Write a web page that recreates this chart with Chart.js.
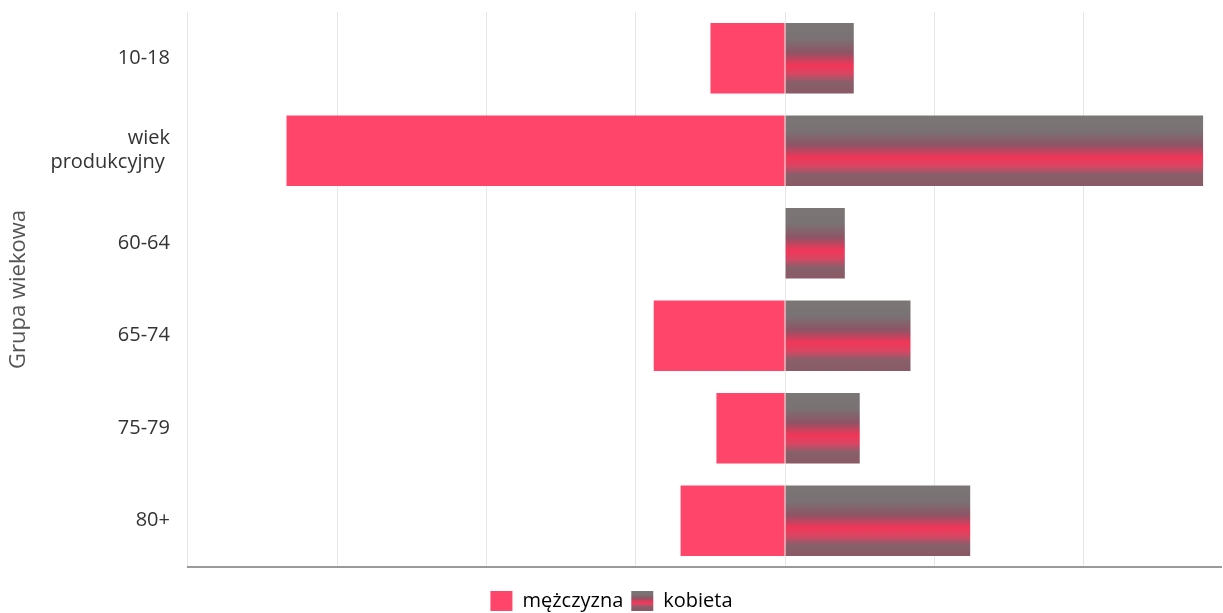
<!DOCTYPE html>
<html>
<head>
<meta charset="utf-8">
<script src="https://cdn.jsdelivr.net/npm/chart.js@4/dist/chart.umd.min.js"></script>
<style>
  html, body { margin: 0; padding: 0; background: #fff; }
  #wrap { width: 1223px; height: 613px; }
</style>
</head>
<body>
<div id="wrap"><canvas id="myChart"></canvas></div>
<script>
// grupy wiekowe (oś Y)
const labels = ['10-18', ['wiek', 'produkcyjny\u00a0'], '60-64', '65-74', '75-79', '80+'];
// mężczyźni po lewej (ujemne), kobiety po prawej
const men = [-25, -167, 0, -44, -23, -35];
const women = [23, 140, 20, 42, 25, 62];
// zakres osi X
const xMin = -200;
const xMax = 146;
const xStep = 50;

// pasiasty (szaro-czerwony) gradient od y0 do y1
function stripes(c2d, y0, y1) {
    const g = c2d.createLinearGradient(0, y0, 0, y1);
    g.addColorStop(0, '#7b7676');
    g.addColorStop(0.22, '#7a7274');
    g.addColorStop(0.42, '#8e5465');
    g.addColorStop(0.6, '#f23658');
    g.addColorStop(0.72, '#d84662');
    g.addColorStop(0.85, '#86606a');
    g.addColorStop(1, '#8a5a66');
    return g;
}

// wypełnienie słupków "kobieta"
function womanFill(c) {
    const chart = c.chart;
    const y = chart.scales.y;
    if (!y || c.dataIndex === undefined) return '#8a5262';
    const mid = y.getPixelForValue(c.dataIndex);
    return stripes(chart.ctx, mid - 35, mid + 35);
}

const ctx = document.getElementById('myChart').getContext('2d');
const chart = new Chart(ctx, {
    type: 'bar',
    data: {
        labels: labels,
        datasets: [
            {
                label: 'mężczyzna',
                data: men,
                backgroundColor: '#ff4569',
                borderWidth: 0,
                categoryPercentage: 0.8,
                barPercentage: 0.95
            },
            {
                label: 'kobieta',
                data: women,
                backgroundColor: womanFill,
                borderWidth: 0,
                categoryPercentage: 0.8,
                barPercentage: 0.95
            }
        ]
    },
    options: {
        indexAxis: 'y',
        animation: false,
        responsive: true,
        maintainAspectRatio: false,
        layout: { padding: { top: 12, right: 2, left: 2, bottom: -8 } },
        scales: {
            x: {
                stacked: true,
                min: xMin,
                max: xMax,
                ticks: { display: false, stepSize: xStep },
                grid: {
                    color: c => (c.tick && c.tick.value === xMax) ? 'rgba(0,0,0,0)' : '#e6e6e6',
                    drawTicks: false
                },
                border: { display: true, color: '#9a9a9a', width: 2 },
                afterFit: s => { s.height = 16; }
            },
            y: {
                stacked: true,
                grid: { display: false },
                border: { display: false },
                ticks: {
                    color: '#333',
                    padding: 10,
                    font: { family: 'Open Sans', size: 20 }
                },
                title: {
                    display: true,
                    text: 'Grupa wiekowa',
                    color: '#555',
                    padding: { bottom: 8 },
                    font: { family: 'Open Sans', size: 22 }
                },
                afterFit: s => { s.paddingTop = 0; s.paddingBottom = 0; }
            }
        },
        plugins: {
            legend: {
                position: 'bottom',
                labels: {
                    color: '#333',
                    boxWidth: 22,
                    boxHeight: 20,
                    padding: 8,
                    font: { family: 'Open Sans', size: 20 },
                    generateLabels: ch => ch.data.datasets.map((d, i) => ({
                        text: d.label,
                        fillStyle: i === 0 ? '#ff4569' : stripes(ch.ctx, ch.height - 23, ch.height - 3),
                        strokeStyle: 'rgba(0,0,0,0)',
                        lineWidth: 0,
                        datasetIndex: i,
                        hidden: false
                    }))
                }
            },
            tooltip: { enabled: false }
        }
    }
});
</script>
</body>
</html>
